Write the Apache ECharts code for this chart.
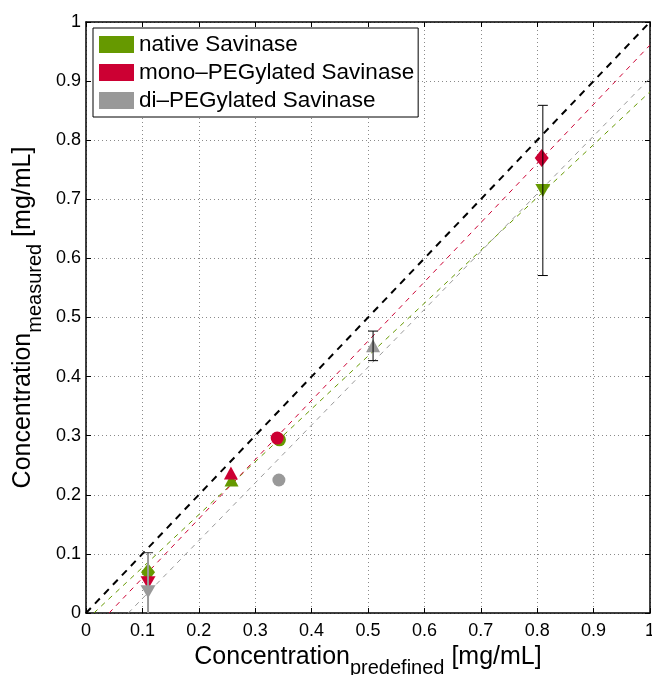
<!DOCTYPE html>
<html>
<head>
<meta charset="utf-8">
<script src="https://cdn.jsdelivr.net/npm/echarts@6/dist/echarts.min.js"></script>
<style>html,body{margin:0;padding:0;background:#fff}#c{width:652px;height:675px}</style>
</head>
<body>
<div id="c"></div>
<script>
// ---- data ----
const seriesNames = ['native Savinase', 'mono\u2013PEGylated Savinase', 'di\u2013PEGylated Savinase'];
const nativeX = [0.11, 0.258, 0.343, 0.81];
const nativeY = [0.069, 0.225, 0.293, 0.715];
const nativeMarkers = ['diamond', 'triangle', 'circle', 'triangleDown'];
const monoX = [0.11, 0.257, 0.339, 0.808];
const monoY = [0.051, 0.237, 0.296, 0.770];
const monoMarkers = ['triangleDown', 'triangle', 'circle', 'diamond'];
const diX = [0.11, 0.342, 0.509];
const diY = [0.036, 0.225, 0.452];
const diMarkers = ['triangleDown', 'circle', 'triangle'];
// error bars: [x, y, half-width]
const errNative = [[0.81, 0.715, 0.144]];
const errDi = [[0.11, 0.036, 0.066], [0.509, 0.452, 0.025]];
// fitted / reference lines (end points)
const identityLine = [[0, 0], [1, 1]];
const fitNative = [[0.014, 0], [1, 0.882]];
const fitMono = [[0.041, 0], [1, 0.961]];
const fitDi = [[0.075, 0], [1, 0.905]];

// ---- styles ----
const GREEN = '#669900', RED = '#cc0033', GRAY = '#999999';
const FONT = 'Liberation Sans, Arial, sans-serif';
const TRI_DOWN = 'path://M0,0 L10,0 L5,9 Z';
const symbolMap = {
  diamond: { symbol: 'diamond', size: [14, 18] },
  triangle: { symbol: 'triangle', size: [14, 13] },
  triangleDown: { symbol: TRI_DOWN, size: [15, 13] },
  circle: { symbol: 'circle', size: 13 }
};
function pts(xs, ys, marks) {
  return xs.map((x, i) => ({
    value: [x, ys[i]],
    symbol: symbolMap[marks[i]].symbol,
    symbolSize: symbolMap[marks[i]].size
  }));
}
function errSeries(data, color, width, capColor) {
  return {
    type: 'custom', xAxisIndex: 0, yAxisIndex: 0, z: 10, silent: true,
    data: data,
    renderItem: function (params, api) {
      const x = api.value(0), y = api.value(1), e = api.value(2);
      const lowV = Math.max(0, y - e);
      const top = api.coord([x, y + e]);
      const bot = api.coord([x, lowV]);
      const hw = 5;
      const children = [
        { type: 'line', shape: { x1: top[0], y1: top[1], x2: bot[0], y2: bot[1] }, style: { stroke: color, lineWidth: width } },
        { type: 'line', shape: { x1: top[0] - hw, y1: top[1], x2: top[0] + hw, y2: top[1] }, style: { stroke: capColor, lineWidth: 1 } }
      ];
      if (y - e >= 0) {
        children.push({ type: 'line', shape: { x1: bot[0] - hw, y1: bot[1], x2: bot[0] + hw, y2: bot[1] }, style: { stroke: capColor, lineWidth: 1 } });
      }
      return { type: 'group', children: children };
    }
  };
}
function lineSeries(data, color, width, dash) {
  return {
    type: 'line', data: data, symbol: 'none', silent: true, z: 2,
    lineStyle: { color: color, width: width, type: dash }
  };
}
const fmt = v => String(+v.toFixed(1));
const tickStyle = { show: true, inside: true, length: 5, lineStyle: { color: '#000', width: 1 } };
const axisCommon = {
  type: 'value', min: 0, max: 1, interval: 0.1,
  axisLine: { show: true, onZero: false, lineStyle: { color: '#000', width: 1.5 } },
  axisTick: tickStyle
};
const titleRich = {
  a: { fontSize: 25, lineHeight: 25, verticalAlign: 'top', color: '#000', fontFamily: FONT },
  b: { fontSize: 20, lineHeight: 34, verticalAlign: 'bottom', color: '#000', fontFamily: FONT }
};

const chart = echarts.init(document.getElementById('c'), null, { renderer: 'canvas' });
chart.setOption({
  animation: false,
  backgroundColor: '#fff',
  textStyle: { fontFamily: FONT },
  grid: { left: 86, right: 2, top: 22, bottom: 62, containLabel: false, outerBoundsMode: 'none' },
  legend: {
    left: 93, top: 28, orient: 'vertical',
    backgroundColor: '#fff', borderColor: '#000', borderWidth: 1, borderRadius: 0,
    padding: [5, 4, 5, 6],
    itemWidth: 35, itemHeight: 17, itemGap: 5,
    icon: 'rect',
    data: seriesNames,
    textStyle: { fontSize: 22.5, lineHeight: 18, color: '#000', fontFamily: FONT }
  },
  xAxis: [
    Object.assign({}, axisCommon, {
      position: 'bottom',
      axisLabel: { color: '#000', fontSize: 18, margin: 9, formatter: fmt, fontFamily: FONT },
      splitLine: { show: true, lineStyle: { color: '#8a8a8a', width: 1, type: [1, 3] } },
      name: '{a|Concentration}{b|predefined}{a| [mg/mL]}',
      nameLocation: 'middle', nameGap: 28,
      nameTextStyle: { rich: titleRich }
    }),
    Object.assign({}, axisCommon, { position: 'top', axisLabel: { show: false }, splitLine: { show: false } })
  ],
  yAxis: [
    Object.assign({}, axisCommon, {
      position: 'left',
      axisLabel: { color: '#000', fontSize: 18, margin: 5, formatter: fmt, fontFamily: FONT },
      splitLine: { show: true, lineStyle: { color: '#8a8a8a', width: 1, type: [1, 3] } },
      name: '{a|Concentration}{b|measured}{a| [mg/mL]}',
      nameLocation: 'middle', nameGap: 30, nameRotate: 90,
      nameTextStyle: { rich: titleRich }
    }),
    Object.assign({}, axisCommon, { position: 'right', axisLabel: { show: false }, splitLine: { show: false } })
  ],
  series: [
    lineSeries(identityLine, '#000', 2, [7, 6]),
    lineSeries(fitNative, GREEN, 1, [5, 5]),
    lineSeries(fitMono, RED, 1, [5, 5]),
    lineSeries(fitDi, GRAY, 1, [5, 5]),
    { name: seriesNames[0], type: 'scatter', z: 5, data: pts(nativeX, nativeY, nativeMarkers), itemStyle: { color: GREEN, opacity: 1 } },
    { name: seriesNames[1], type: 'scatter', z: 6, data: pts(monoX, monoY, monoMarkers), itemStyle: { color: RED, opacity: 1 } },
    { name: seriesNames[2], type: 'scatter', z: 7, data: pts(diX, diY, diMarkers), itemStyle: { color: GRAY, opacity: 1 } },
    errSeries(errNative, '#000', 1, '#000'),
    errSeries(errDi.slice(0, 1), GRAY, 2, '#333'),
    errSeries(errDi.slice(1), '#000', 1, '#000')
  ]
});
</script>
</body>
</html>
